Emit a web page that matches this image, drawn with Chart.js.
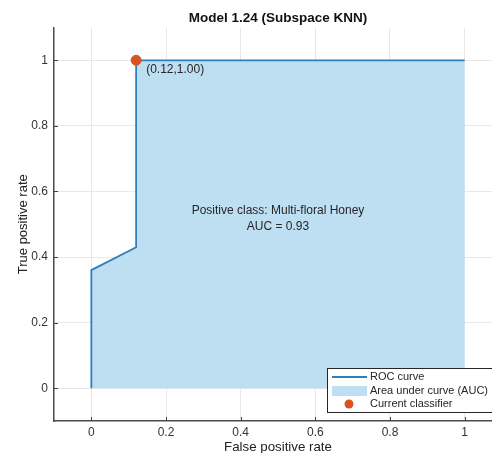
<!DOCTYPE html>
<html><head><meta charset="utf-8">
<script src="https://cdn.jsdelivr.net/npm/chart.js@4/dist/chart.umd.min.js"></script>
<style>html,body{margin:0;padding:0;overflow:hidden;background:#fff}#wrap{width:508px;height:453px}</style>
</head><body><div id="wrap"><canvas id="c" width="508" height="453"></canvas></div>
<script>
const rocFPR = [0, 0, 0.12, 0.12, 1];
const rocTPR = [0, 0.36, 0.43, 1.0, 1.0];
const currentFPR = [0.12];
const currentTPR = [1.0];
const xTicks = [0, 0.2, 0.4, 0.6, 0.8, 1];
const yTicks = [0, 0.2, 0.4, 0.6, 0.8, 1];
const titleText = 'Model 1.24 (Subspace KNN)';
const annotationLines = ['Positive class: Multi-floral Honey', 'AUC = 0.93'];
const legendLabels = ['ROC curve', 'Area under curve (AUC)', 'Current classifier'];

const FONT = 'Liberation Sans, Arial, Helvetica, sans-serif';
const lineColor = '#2d7fbd';
const fillColor = 'rgb(190,222,242)';
const dotColor = '#d9531e';

const overlay = {
  id: 'overlay',
  afterDatasetsDraw(chart) {
    const {ctx, scales: {x, y}, chartArea} = chart;
    ctx.save();
    // inward tick marks
    ctx.strokeStyle = '#404040'; ctx.lineWidth = 1;
    xTicks.forEach(v => { const px = Math.round(x.getPixelForValue(v)) + 0.5;
      ctx.beginPath(); ctx.moveTo(px, chartArea.bottom); ctx.lineTo(px, chartArea.bottom - 4); ctx.stroke(); });
    yTicks.forEach(v => { const py = Math.round(y.getPixelForValue(v)) + 0.5;
      ctx.beginPath(); ctx.moveTo(chartArea.left, py); ctx.lineTo(chartArea.left + 4, py); ctx.stroke(); });
    // point label
    ctx.fillStyle = '#262626';
    ctx.font = '12px ' + FONT;
    ctx.textAlign = 'left'; ctx.textBaseline = 'middle';
    ctx.fillText('(' + currentFPR[0].toFixed(2) + ',' + currentTPR[0].toFixed(2) + ')',
      x.getPixelForValue(currentFPR[0]) + 10, y.getPixelForValue(currentTPR[0]) + 9);
    // annotation
    ctx.textAlign = 'center';
    const cx = x.getPixelForValue(0.5);
    ctx.fillText(annotationLines[0], cx, y.getPixelForValue(0.54));
    ctx.fillText(annotationLines[1], cx, y.getPixelForValue(0.493));
    // legend box
    const lx = 327, ly = 368, lw = 170, lh = 44;
    ctx.fillStyle = '#fff';
    ctx.fillRect(lx, ly, lw, lh);
    ctx.strokeStyle = '#262626'; ctx.lineWidth = 1;
    ctx.strokeRect(lx + 0.5, ly + 0.5, lw, lh);
    const rows = [ly + 9, ly + 23, ly + 36];
    ctx.strokeStyle = lineColor; ctx.lineWidth = 2;
    ctx.beginPath(); ctx.moveTo(332, rows[0]); ctx.lineTo(367, rows[0]); ctx.stroke();
    ctx.fillStyle = fillColor; ctx.fillRect(332, rows[1] - 5, 35, 10);
    ctx.fillStyle = dotColor; ctx.beginPath(); ctx.arc(349, rows[2], 4.5, 0, Math.PI * 2); ctx.fill();
    ctx.fillStyle = '#262626'; ctx.textAlign = 'left'; ctx.font = '11px ' + FONT;
    legendLabels.forEach((t, i) => ctx.fillText(t, 370, rows[i]));
    ctx.restore();
  }
};

new Chart(document.getElementById('c'), {
  type: 'scatter',
  data: {
    datasets: [
      {
        label: legendLabels[2],
        data: currentFPR.map((v, i) => ({x: v, y: currentTPR[i]})),
        backgroundColor: dotColor, borderColor: dotColor,
        pointRadius: 5, showLine: false, order: 0
      },
      {
        label: legendLabels[0],
        data: rocFPR.map((v, i) => ({x: v, y: rocTPR[i]})),
        showLine: true, borderColor: lineColor, borderWidth: 1.8,
        backgroundColor: fillColor, fill: 'origin', pointRadius: 0, tension: 0, order: 1
      }
    ]
  },
  options: {
    responsive: false, animation: false,
    layout: {padding: 0},
    plugins: {
      legend: {display: false},
      tooltip: {enabled: false},
      title: {display: true, fullSize: false, text: titleText, color: '#111',
        font: {family: FONT, size: 13.5, weight: 'bold'}, padding: {top: 10, bottom: 1.3}}
    },
    scales: {
      x: {
        type: 'linear', min: -0.1, max: 1.1,
        afterBuildTicks: s => { s.ticks = xTicks.map(v => ({value: v})); },
        afterFit: s => { s.height = 32; },
        grid: {color: '#e8e8e8', drawTicks: false, lineWidth: 1},
        border: {display: true, color: '#4a4a4a', width: 1.5},
        ticks: {color: '#333', font: {family: FONT, size: 12}, padding: 4, callback: v => String(+v.toFixed(1))},
        title: {display: true, text: 'False positive rate', color: '#222', font: {family: FONT, size: 13.3}, padding: {top: 0, bottom: -2}}
      },
      y: {
        type: 'linear', min: -0.1, max: 1.1,
        afterBuildTicks: s => { s.ticks = yTicks.map(v => ({value: v})); },
        afterFit: s => { s.width = 54; },
        grid: {color: '#e8e8e8', drawTicks: false, lineWidth: 1},
        border: {display: true, color: '#4a4a4a', width: 1.5},
        ticks: {color: '#333', font: {family: FONT, size: 12}, padding: 6, callback: v => String(+v.toFixed(1))},
        title: {display: true, text: 'True positive rate', color: '#222', font: {family: FONT, size: 13}, padding: {top: 16, bottom: 0}}
      }
    }
  },
  plugins: [overlay]
});
</script></body></html>
